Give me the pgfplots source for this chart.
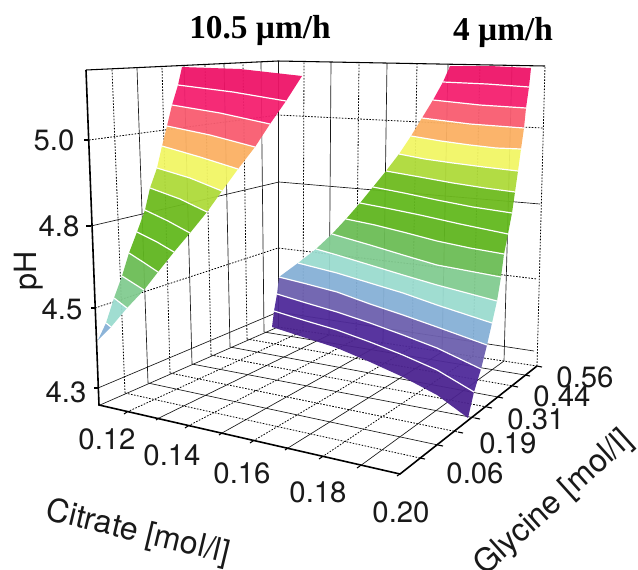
\documentclass[border=0pt]{standalone}
\usepackage{fontspec}
\setmainfont{TeX Gyre Heros}
\newfontfamily\ttl{Liberation Serif}
\usepackage{pgfplots}
\pgfplotsset{compat=1.18}
\definecolor{c1}{HTML}{EE1468}
\definecolor{c2}{HTML}{F4206F}
\definecolor{c3}{HTML}{F95C70}
\definecolor{c4}{HTML}{FBB063}
\definecolor{c5}{HTML}{F1F565}
\definecolor{c6}{HTML}{AEDA3A}
\definecolor{c7}{HTML}{6EBB1F}
\definecolor{c8}{HTML}{62B81E}
\definecolor{c9}{HTML}{60B520}
\definecolor{c10}{HTML}{6CBD55}
\definecolor{c11}{HTML}{82CB90}
\definecolor{c12}{HTML}{9BDBCF}
\definecolor{c13}{HTML}{86B0D6}
\definecolor{c14}{HTML}{6D60AE}
\definecolor{c15}{HTML}{4F2A9A}
\definecolor{c16}{HTML}{4C2490}
\tikzset{
 gs/.style={black!90,line width=0.5pt},
 gd/.style={black,line width=0.6pt,dash pattern=on 1.2pt off 1.1pt},
 ax/.style={black,line width=1.2pt},
 wl/.style={white,line width=0.9pt},
 tk/.style={black,line width=0.8pt},
 band/.style={draw=none,fill opacity=0.95},
 lab/.style={font=\fontsize{22}{26}\selectfont,inner sep=0pt,text=black!90},
 labb/.style={font=\fontsize{24}{28}\selectfont,inner sep=0pt,text=black!90},
 ttlb/.style={font=\ttl\bfseries\fontsize{25}{29}\selectfont,inner sep=0pt}
}
\begin{document}
\begin{tikzpicture}
\useasboundingbox (0,0) rectangle (478.5pt,426.75pt);
\begin{axis}[at={(0,0)},anchor=south west,scale only axis,width=478.5pt,height=426.75pt,
 xmin=0,xmax=638,ymin=0,ymax=569,y dir=reverse,hide axis,clip=false]
% left wall horizontals
\addplot[gd] coordinates {(89,140)(278,115)(543,128)};
\addplot[gs] coordinates {(91,226)(279,182)(540,204)};
\addplot[gd] coordinates {(95,308)(278,248)(537,279)};
\addplot[gs] coordinates {(98,388)(278,312)(534,351)};
% left wall verticals
\addplot[gd] coordinates {(125,393)(112,69)};
\addplot[gs] coordinates {(148,383)(137,68)};
\addplot[gd] coordinates {(170,373)(162,66)};
\addplot[gs] coordinates {(192,364)(184,65)};
\addplot[gd] coordinates {(211,355)(205,64)};
\addplot[gs] coordinates {(230,347)(224,63)};
\addplot[gd] coordinates {(247,339)(243,62)};
\addplot[gs] coordinates {(264,332)(261,62)};
\addplot[gs,line width=0.6pt] coordinates {(278,327)(278,61)};
% back wall verticals
\addplot[gd] coordinates {(303,331)(304,62)};
\addplot[gs] coordinates {(329,335)(331,62)};
\addplot[gd] coordinates {(356,339)(359,63)};
\addplot[gs] coordinates {(383,343)(387,63)};
\addplot[gd] coordinates {(412,347)(417,63)};
\addplot[gs] coordinates {(442,352)(448,64)};
\addplot[gd] coordinates {(473,356)(480,64)};
\addplot[gs] coordinates {(504,361)(512,65)};
\addplot[gd] coordinates {(537,366)(545,66)};
% floor: citrate constant
\addplot[gd] coordinates {(127,412)(303,331)};
\addplot[gs] coordinates {(159,418)(329,335)};
\addplot[gd] coordinates {(188,426)(356,339)};
\addplot[gs] coordinates {(222,433)(383,343)};
\addplot[gd] coordinates {(253,441)(412,347)};
\addplot[gs] coordinates {(288,448)(442,352)};
\addplot[gd] coordinates {(322,457)(473,356)};
\addplot[gs] coordinates {(360,466)(504,361)};
% floor: glycine constant
\addplot[gd] coordinates {(125,393)(420,458)};
\addplot[gs] coordinates {(148,383)(438,445)};
\addplot[gd] coordinates {(170,373)(458,432)};
\addplot[gs] coordinates {(192,364)(475,418)};
\addplot[gd] coordinates {(211,355)(487,407)};
\addplot[gs] coordinates {(230,347)(498,397)};
\addplot[gd] coordinates {(247,339)(513,386)};
\addplot[gs] coordinates {(264,332)(525,375)};
\addplot[gs] coordinates {(100,405)(278,327)};
\addplot[gd] coordinates {(278,327)(537,366)};
% frame
\addplot[black,line width=0.8pt] coordinates {(86,70)(278,61)(545,66)};
\addplot[ax] coordinates {(86,70)(99,405)(400,474)(537,366)};
% left surface bands
\addplot[band,fill=c1] coordinates {(182,67)(240,69)(302,76)(286,101)(233,92)(178,85)(182,67)};
\addplot[band,fill=c2] coordinates {(178,85)(233,92)(286,101)(270,124)(220,113)(172,105)(178,85)};
\addplot[band,fill=c3] coordinates {(172,105)(220,113)(270,124)(255,147)(210,135)(167,126)(172,105)};
\addplot[band,fill=c4] coordinates {(167,126)(210,135)(255,147)(238,169)(200,157)(162,146)(167,126)};
\addplot[band,fill=c5] coordinates {(162,146)(200,157)(238,169)(222,191)(190,178)(157,168)(162,146)};
\addplot[band,fill=c6] coordinates {(157,168)(190,178)(222,191)(207,212)(180,199)(150,188)(157,168)};
\addplot[band,fill=c7] coordinates {(150,188)(180,199)(207,212)(190,233)(168,221)(145,210)(150,188)};
\addplot[band,fill=c8] coordinates {(145,210)(168,221)(190,233)(174,252)(157,242)(137,232)(145,210)};
\addplot[band,fill=c9] coordinates {(137,232)(157,242)(174,252)(158,272)(143,262)(129,253)(137,232)};
\addplot[band,fill=c10] coordinates {(129,253)(143,262)(158,272)(144,290)(122,276)(129,253)};
\addplot[band,fill=c11] coordinates {(122,276)(144,290)(127,308)(114,298)(122,276)};
\addplot[band,fill=c12] coordinates {(114,298)(127,308)(111,327)(106,323)(114,298)};
\addplot[band,fill=c13] coordinates {(106,323)(111,327)(98,340)(106,323)};
\addplot[wl] coordinates {(178,85)(233,92)(286,101)};
\addplot[wl] coordinates {(172,105)(220,113)(270,124)};
\addplot[wl] coordinates {(167,126)(210,135)(255,147)};
\addplot[wl] coordinates {(162,146)(200,157)(238,169)};
\addplot[wl] coordinates {(157,168)(190,178)(222,191)};
\addplot[wl] coordinates {(150,188)(180,199)(207,212)};
\addplot[wl] coordinates {(145,210)(168,221)(190,233)};
\addplot[wl] coordinates {(137,232)(157,242)(174,252)};
\addplot[wl] coordinates {(129,253)(143,262)(158,272)};
\addplot[wl] coordinates {(122,276)(144,290)};
\addplot[wl] coordinates {(114,298)(127,308)};
\addplot[wl] coordinates {(106,323)(111,327)};
% right surface bands
\addplot[band,fill=c1] coordinates {(450,66)(490,66)(531,68)(529,87)(487,84)(443,82)(450,66)};
\addplot[band,fill=c2] coordinates {(443,82)(487,84)(529,87)(526,108)(480,105)(433,100)(443,82)};
\addplot[band,fill=c3] coordinates {(433,100)(480,105)(526,108)(524,128)(470,124)(422,118)(433,100)};
\addplot[band,fill=c4] coordinates {(422,118)(470,124)(524,128)(521,149)(496,148)(470,145)(441,141)(411,136)(422,118)};
\addplot[band,fill=c5] coordinates {(411,136)(441,141)(470,145)(496,148)(521,149)(518,171)(484,167)(453,163)(425,159)(399,154)(411,136)};
\addplot[band,fill=c6] coordinates {(399,154)(425,159)(453,163)(484,167)(518,171)(515,192)(485,188)(453,183)(420,177)(386,171)(399,154)};
\addplot[band,fill=c7] coordinates {(386,171)(420,177)(453,183)(485,188)(515,192)(512,213)(473,207)(437,200)(404,193)(373,187)(386,171)};
\addplot[band,fill=c8] coordinates {(373,187)(404,193)(437,200)(473,207)(512,213)(508,234)(460,224)(420,215)(386,208)(360,203)(373,187)};
\addplot[band,fill=c9] coordinates {(360,203)(386,208)(420,215)(460,224)(508,234)(504,254)(470,248)(437,241)(403,232)(375,225)(346,219)(360,203)};
\addplot[band,fill=c10] coordinates {(346,219)(375,225)(403,232)(437,241)(470,248)(504,254)(501,277)(437,265)(403,255)(370,245)(332,234)(346,219)};
\addplot[band,fill=c11] coordinates {(332,234)(370,245)(403,255)(437,265)(501,277)(497,301)(437,285)(403,275)(370,265)(337,255)(316,249)(332,234)};
\addplot[band,fill=c12] coordinates {(316,249)(337,255)(370,265)(403,275)(437,285)(497,301)(492,323)(437,305)(403,293)(370,283)(337,273)(298,263)(316,249)};
\addplot[band,fill=c13] coordinates {(298,263)(337,273)(370,283)(403,293)(437,305)(492,323)(487,345)(437,327)(403,315)(370,304)(337,292)(303,283)(279,277)(298,263)};
\addplot[band,fill=c14] coordinates {(279,277)(303,283)(337,292)(370,304)(403,315)(437,327)(487,345)(481,369)(437,348)(403,335)(370,323)(337,312)(303,302)(277,294)(279,277)};
\addplot[band,fill=c15] coordinates {(277,294)(303,302)(337,312)(370,323)(403,335)(437,348)(481,369)(474,392)(437,370)(403,355)(370,342)(337,330)(303,320)(274,311)(277,294)};
\addplot[band,fill=c16] coordinates {(274,311)(303,320)(337,330)(370,342)(403,355)(437,370)(474,392)(468,418)(437,395)(403,377)(370,362)(337,348)(303,337)(272,327)(274,311)};
\addplot[wl] coordinates {(443,82)(487,84)(529,87)};
\addplot[wl] coordinates {(433,100)(480,105)(526,108)};
\addplot[wl] coordinates {(422,118)(470,124)(524,128)};
\addplot[wl] coordinates {(411,136)(441,141)(470,145)(496,148)(521,149)};
\addplot[wl] coordinates {(399,154)(425,159)(453,163)(484,167)(518,171)};
\addplot[wl] coordinates {(386,171)(420,177)(453,183)(485,188)(515,192)};
\addplot[wl] coordinates {(373,187)(404,193)(437,200)(473,207)(512,213)};
\addplot[wl] coordinates {(360,203)(386,208)(420,215)(460,224)(508,234)};
\addplot[wl] coordinates {(346,219)(375,225)(403,232)(437,241)(470,248)(504,254)};
\addplot[wl] coordinates {(332,234)(370,245)(403,255)(437,265)(501,277)};
\addplot[wl] coordinates {(316,249)(337,255)(370,265)(403,275)(437,285)(497,301)};
\addplot[wl] coordinates {(298,263)(337,273)(370,283)(403,293)(437,305)(492,323)};
\addplot[wl] coordinates {(279,277)(303,283)(337,292)(370,304)(403,315)(437,327)(487,345)};
\addplot[wl] coordinates {(277,294)(303,302)(337,312)(370,323)(403,335)(437,348)(481,369)};
\addplot[wl] coordinates {(274,311)(303,320)(337,330)(370,342)(403,355)(437,370)(474,392)};
% ticks
\addplot[tk] coordinates {(84,140)(89,140)};
\addplot[tk] coordinates {(86,226)(91,226)};
\addplot[tk] coordinates {(91,308)(96,308)};
\addplot[tk] coordinates {(94,388)(98,388)};
\addplot[tk] coordinates {(127,412)(124,414)};
\addplot[tk] coordinates {(159,418)(156,420)};
\addplot[tk] coordinates {(188,426)(185,428)};
\addplot[tk] coordinates {(222,433)(219,435)};
\addplot[tk] coordinates {(253,441)(250,443)};
\addplot[tk] coordinates {(288,448)(285,450)};
\addplot[tk] coordinates {(322,457)(319,459)};
\addplot[tk] coordinates {(360,466)(357,468)};
\addplot[tk] coordinates {(400,474)(397,476)};
\addplot[tk] coordinates {(420,458)(425,459)};
\addplot[tk] coordinates {(438,445)(443,446)};
\addplot[tk] coordinates {(458,432)(463,433)};
\addplot[tk] coordinates {(475,418)(480,419)};
\addplot[tk] coordinates {(487,407)(492,408)};
\addplot[tk] coordinates {(498,397)(503,398)};
\addplot[tk] coordinates {(513,386)(518,387)};
\addplot[tk] coordinates {(525,375)(530,376)};
\addplot[tk] coordinates {(537,366)(542,367)};
% text
\node[ttlb] at (axis cs:260,30) {10.5 µm/h};
\node[ttlb] at (axis cs:503,32) {4 µm/h};
\node[lab] at (axis cs:54,140) {5.0};
\node[lab] at (axis cs:59,226) {4.8};
\node[lab] at (axis cs:62,309) {4.5};
\node[lab] at (axis cs:66,392) {4.3};
\node[lab] at (axis cs:107,439) {0.12};
\node[lab] at (axis cs:172,455) {0.14};
\node[lab] at (axis cs:242,473) {0.16};
\node[lab] at (axis cs:318,492) {0.18};
\node[lab] at (axis cs:401,512) {0.20};
\node[lab] at (axis cs:475,473) {0.06};
\node[lab] at (axis cs:508,443) {0.19};
\node[lab] at (axis cs:536,419) {0.31};
\node[lab] at (axis cs:562,396) {0.44};
\node[lab] at (axis cs:585,377) {0.56};
\node[font=\fontsize{23}{27}\selectfont,inner sep=0pt,text=black!90,rotate=90] at (axis cs:29,271) {pH};
\node[labb,rotate=-13.5] at (axis cs:138,533) {Citrate [mol/l]};
\node[labb,rotate=42] at (axis cs:554,503) {Glycine [mol/l]};
\end{axis}
\end{tikzpicture}
\end{document}
